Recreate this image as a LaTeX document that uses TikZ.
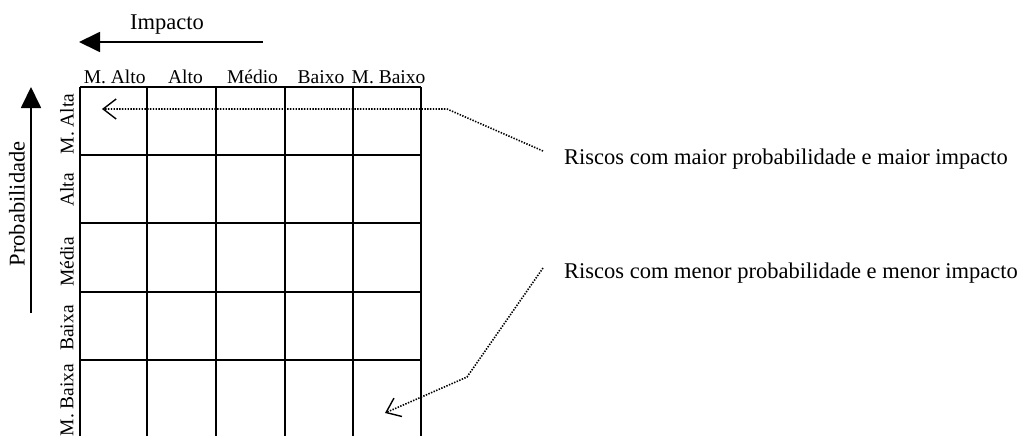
\documentclass[tikz,border=0pt]{standalone}
\usepackage{fontspec}
\setmainfont{Liberation Serif}
\usetikzlibrary{arrows.meta}
\begin{document}
\begin{tikzpicture}[x=1pt,y=-1pt,
  gridline/.style={line width=1.9pt},
  bigtext/.style={font=\fontsize{22.5}{27}\selectfont, inner sep=0pt},
  cattext/.style={font=\fontsize{19.5}{23}\selectfont, inner sep=0pt},
  axisarrow/.style={line width=1.8pt, -{Triangle[length=21pt,width=20pt]}},
  pointer/.style={line width=1.6pt, dash pattern=on 1.4pt off 1.4pt,
    -{Straight Barb[length=13pt,width=20pt,line width=1.4pt]}}
]
\useasboundingbox (0,0) rectangle (1022,436);

% risk matrix grid
\foreach \x in {80,147,216,285,353,421}
  \draw[gridline] (\x,87) -- (\x,436);
\foreach \y in {87,155,223,292,360}
  \draw[gridline] (80,\y) -- (421,\y);

% impact axis
\node[bigtext, anchor=base] (impacto) at (167,30) {Impacto};
\coordinate (impFrom) at (263,42);
\coordinate (impTo) at (79,42);
\draw[axisarrow] (impFrom) -- (impTo);

% impact categories
\node[cattext, anchor=base] (cMA) at (114.7,83) {M. Alto};
\node[cattext, anchor=base] (cA)  at (185.5,83) {Alto};
\node[cattext, anchor=base] (cM)  at (252.5,83) {Médio};
\node[cattext, anchor=base] (cB)  at (321,83) {Baixo};
\node[cattext, anchor=base] (cMB) at (388.5,83) {M. Baixo};

% probability axis
\node[bigtext, rotate=90] (prob) at (17,204) {Probabilidade};
\coordinate (probFrom) at (31,313);
\coordinate (probTo) at (31,87);
\draw[axisarrow] (probFrom) -- (probTo);

% probability categories
\node[cattext, rotate=90] (rMA) at (67,124) {M. Alta};
\node[cattext, rotate=90] (rA)  at (67,190) {Alta};
\node[cattext, rotate=90] (rM)  at (67,262) {Média};
\node[cattext, rotate=90] (rB)  at (67,328) {Baixa};
\node[cattext, rotate=90] (rMB) at (67,400) {M. Baixa};

% annotations
\node[bigtext, anchor=base west] (maior) at (564,164)
  {Riscos com maior probabilidade e maior impacto};
\node[bigtext, anchor=base west] (menor) at (564,278)
  {Riscos com menor probabilidade e menor impacto};

\coordinate (maiorStart) at (543,151);
\coordinate (maiorBend) at (447,109);
\coordinate (maiorTip) at (102,109);
\draw[pointer] (maiorStart) -- (maiorBend) -- (maiorTip);

\coordinate (menorStart) at (543,268);
\coordinate (menorBend) at (467,377);
\coordinate (menorTip) at (385,413);
\draw[pointer] (menorStart) -- (menorBend) -- (menorTip);
\end{tikzpicture}
\end{document}
